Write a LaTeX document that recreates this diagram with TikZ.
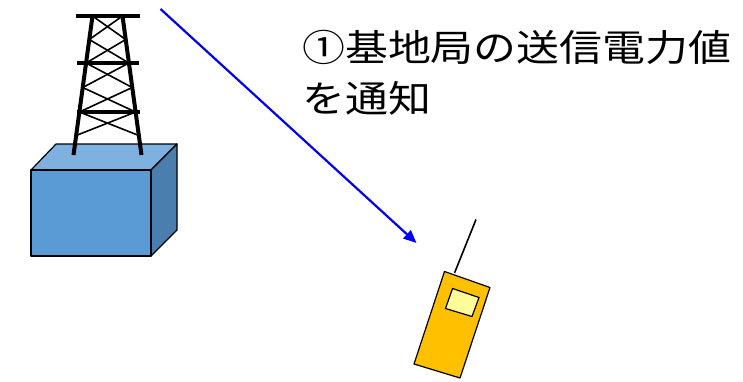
\documentclass[tikz,border=0pt]{standalone}
\usepackage{fontspec}
\newfontfamily\jpfont{Noto Sans CJK JP}
\usetikzlibrary{arrows.meta,calc}
\definecolor{boxfront}{HTML}{5B9BD5}
\definecolor{boxtop}{HTML}{7EB1E0}
\definecolor{boxside}{HTML}{4A7EAE}
\definecolor{phonebody}{HTML}{FFC000}
\definecolor{phonescreen}{HTML}{FFFF99}
\tikzset{
  face/.style={draw=black, line width=1.2pt, line join=round},
  leg/.style={line width=4pt, line cap=butt},
  crossbar/.style={line width=3.6pt},
  brace/.style={line width=1.6pt},
  signal/.style={draw=blue, line width=2.2pt, -{Triangle[length=13pt,width=11pt]}},
  caption/.style={font=\jpfont\fontsize{37}{44}\selectfont, anchor=base west, inner sep=0pt},
}
\newcommand{\widecap}[1]{\scalebox{1.16}[1]{#1}}
\begin{document}
\begin{tikzpicture}[x=1pt, y=-1pt]
  \useasboundingbox (0,0) rectangle (743,381);
  % station housing: a box drawn as three faces
  \filldraw[face, fill=boxtop] (31,170) -- (56,144) -- (177,144) -- (151,170) -- cycle;
  \filldraw[face, fill=boxside] (151,170) -- (177,144) -- (177,230) -- (151,256) -- cycle;
  \filldraw[face, fill=boxfront] (31,170) rectangle (151,256);
  % lattice tower standing on the housing
  \coordinate (lt) at (92.5,16);  \coordinate (rt) at (122.5,16);
  \coordinate (lb) at (73.5,155); \coordinate (rb) at (141.5,155);
  \foreach \ya/\yb in {16/39.5, 39.5/63, 63/87.5, 87.5/112, 112/135.5} {
    \draw[brace] ($(lt)!{(\ya-16)/139}!(lb)$) -- ($(rt)!{(\yb-16)/139}!(rb)$);
    \draw[brace] ($(rt)!{(\ya-16)/139}!(rb)$) -- ($(lt)!{(\yb-16)/139}!(lb)$);
  }
  \draw[leg] (lt) -- (lb);
  \draw[leg] (rt) -- (rb);
  \draw[crossbar] (76,16) -- (140,16);
  \draw[crossbar] (77,63) -- (139,63);
  \draw[crossbar] (77,112) -- (140,112);
  % handset
  \draw[line width=1.6pt] (454.5,273) -- (476,219.5);
  \filldraw[face, fill=phonebody] (444.5,271.5) -- (490,287.5) -- (460,378) -- (414,364) -- cycle;
  \filldraw[face, fill=phonescreen] (452.5,288.5) -- (479,297.5) -- (472,316.5) -- (445.5,308.5) -- cycle;
  % downlink notification
  \coordinate (sigfrom) at (160.5,9);
  \coordinate (sigto) at (416.5,243);
  \draw[signal] (sigfrom) -- (sigto);
  \node[caption] (cap1) at (302,61) {\widecap{①基地局の送信電力値}};
  \node[caption] (cap2) at (302,112) {\widecap{を通知}};
\end{tikzpicture}
\end{document}
